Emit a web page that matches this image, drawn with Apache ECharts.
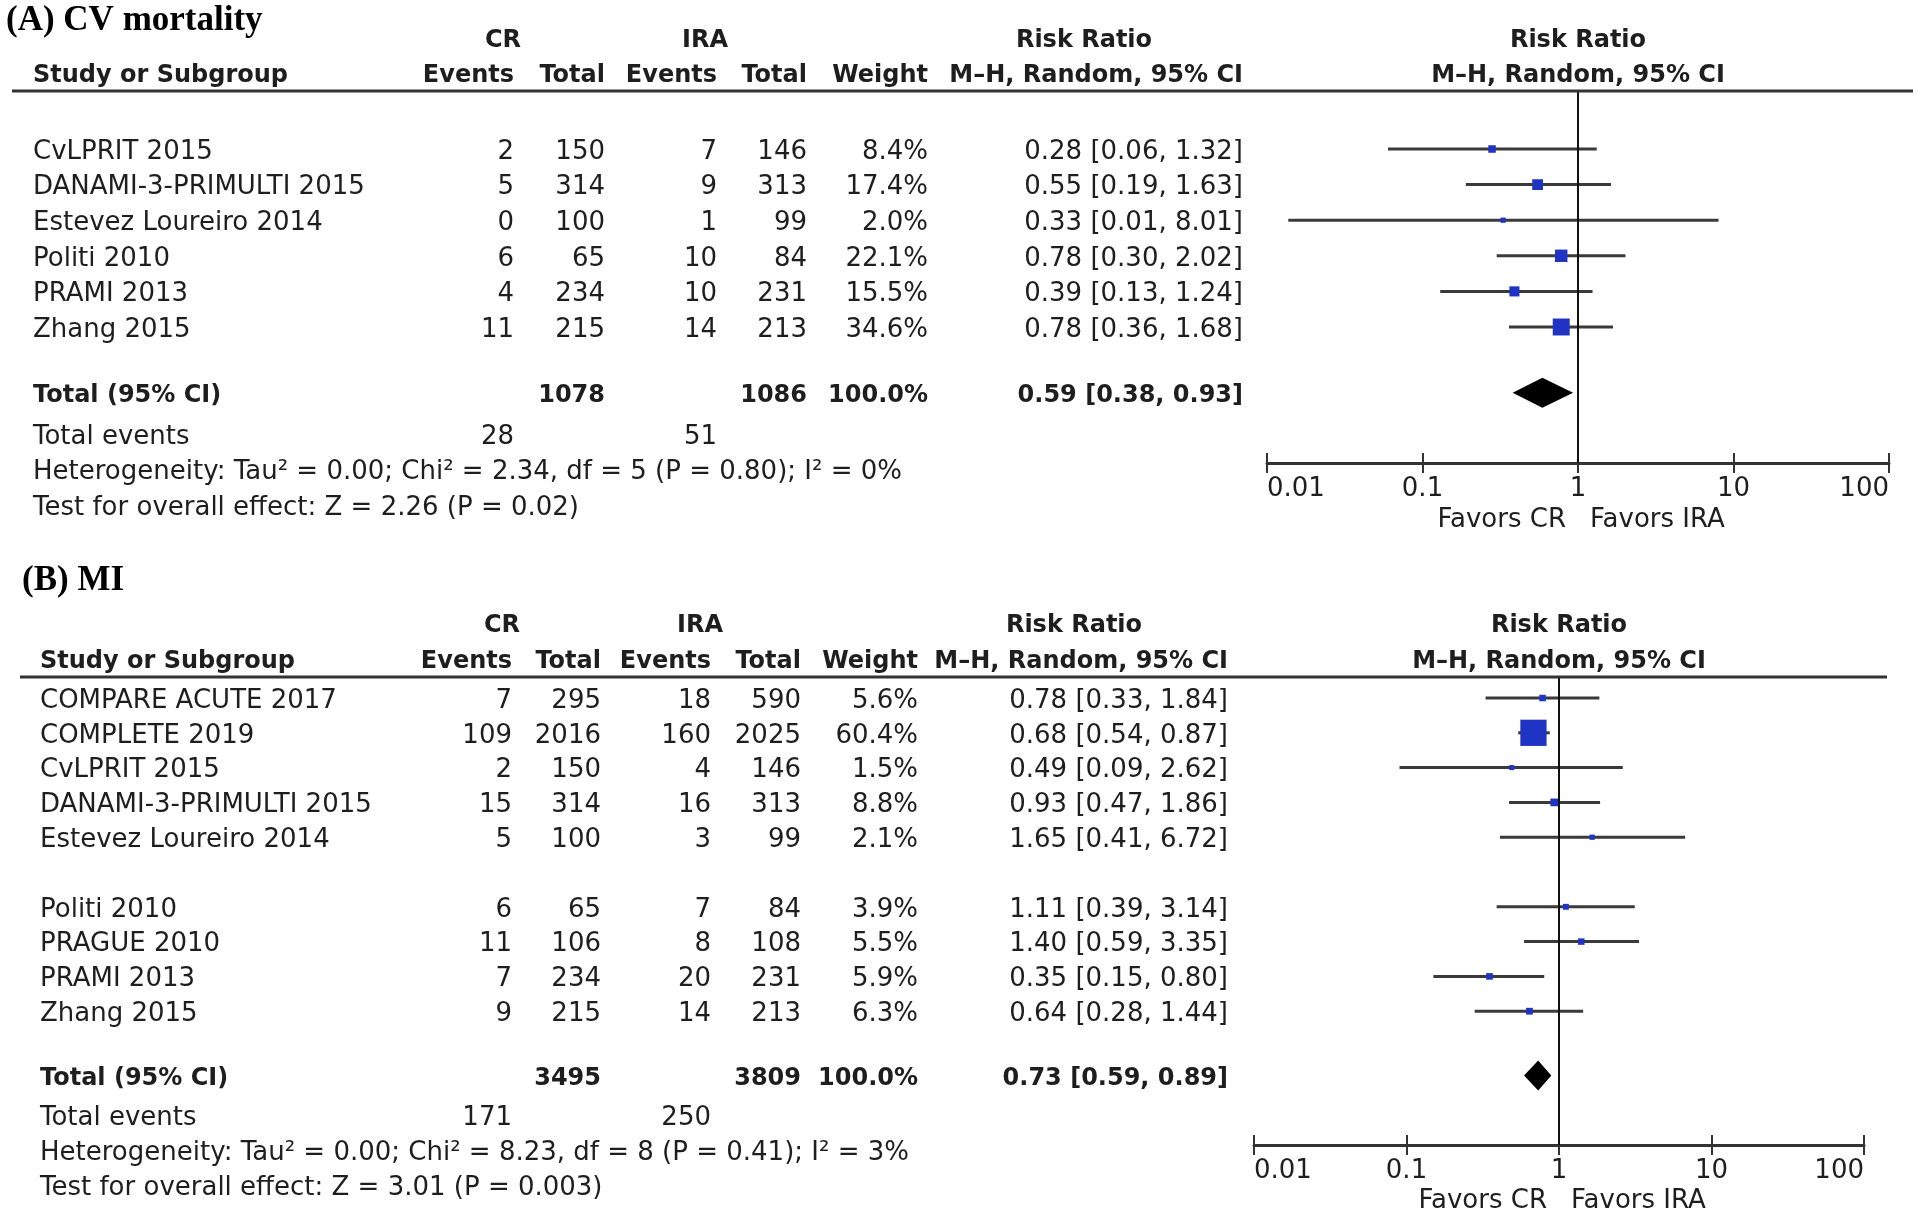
<!DOCTYPE html>
<html><head><meta charset="utf-8">
<script src="https://cdn.jsdelivr.net/npm/echarts@6/dist/echarts.min.js"></script>
<style>html,body{margin:0;padding:0;background:#fff}#c{width:1920px;height:1211px}</style>
</head><body><div id="c"></div><script>
// ---------- DATA: panel A (CV mortality) ----------
const studiesA   = ['CvLPRIT 2015','DANAMI-3-PRIMULTI 2015','Estevez Loureiro 2014','Politi 2010','PRAMI 2013','Zhang 2015'];
const crEventsA  = [2, 5, 0, 6, 4, 11];
const crTotalA   = [150, 314, 100, 65, 234, 215];
const iraEventsA = [7, 9, 1, 10, 10, 14];
const iraTotalA  = [146, 313, 99, 84, 231, 213];
const weightA    = [8.4, 17.4, 2.0, 22.1, 15.5, 34.6];
const rrA        = [0.28, 0.55, 0.33, 0.78, 0.39, 0.78];
const loA        = [0.06, 0.19, 0.0137, 0.30, 0.13, 0.36];
const hiA        = [1.32, 1.63, 8.01, 2.02, 1.24, 1.68];
const overallA   = [0.59, 0.38, 0.93];
const sumTotalA  = [1078, 1086];
const sumEventsA = [28, 51];
const hetA  = 'Heterogeneity: Tau² = 0.00; Chi² = 2.34, df = 5 (P = 0.80); I² = 0%';
const testA = 'Test for overall effect: Z = 2.26 (P = 0.02)';

// ---------- DATA: panel B (MI) ----------
const studiesB   = ['COMPARE ACUTE 2017','COMPLETE 2019','CvLPRIT 2015','DANAMI-3-PRIMULTI 2015','Estevez Loureiro 2014','Politi 2010','PRAGUE 2010','PRAMI 2013','Zhang 2015'];
const crEventsB  = [7, 109, 2, 15, 5, 6, 11, 7, 9];
const crTotalB   = [295, 2016, 150, 314, 100, 65, 106, 234, 215];
const iraEventsB = [18, 160, 4, 16, 3, 7, 8, 20, 14];
const iraTotalB  = [590, 2025, 146, 313, 99, 84, 108, 231, 213];
const weightB    = [5.6, 60.4, 1.5, 8.8, 2.1, 3.9, 5.5, 5.9, 6.3];
const rrB        = [0.78, 0.68, 0.49, 0.93, 1.65, 1.11, 1.40, 0.35, 0.64];
const loB        = [0.33, 0.54, 0.09, 0.47, 0.41, 0.39, 0.59, 0.15, 0.28];
const hiB        = [1.84, 0.87, 2.62, 1.86, 6.72, 3.14, 3.35, 0.80, 1.44];
const overallB   = [0.73, 0.59, 0.89];
const sumTotalB  = [3495, 3809];
const sumEventsB = [171, 250];
const hetB  = 'Heterogeneity: Tau² = 0.00; Chi² = 8.23, df = 8 (P = 0.41); I² = 3%';
const testB = 'Test for overall effect: Z = 3.01 (P = 0.003)';

const tickLabels = ['0.01', '0.1', '1', '10', '100'];
const favorsLabels = ['Favors CR', 'Favors IRA'];

// ---------- LAYOUT ----------
const panels = [
  { title:'(A) CV mortality', titleX:6, titleY:18, h1Y:38, h2Y:73, lineY:91, lineX:[12,1913],
    studyX:33, cols:[514,605,717,807,928,1243], crC:503, iraC:705, rrC:1084,
    plotL:1267, plotR:1889, axisY:463, firstY:149, pitch:35.6, gapAfter:99, favorsY:517,
    studies:studiesA, crE:crEventsA, crT:crTotalA, iraE:iraEventsA, iraT:iraTotalA, w:weightA, rr:rrA, lo:loA, hi:hiA,
    ov:overallA, sumT:sumTotalA, sumE:sumEventsA, het:hetA, test:testA },
  { title:'(B) MI', titleX:22, titleY:578, h1Y:623, h2Y:659, lineY:677, lineX:[20,1887],
    studyX:40, cols:[512,601,711,801,918,1228], crC:502, iraC:700, rrC:1074,
    plotL:1254, plotR:1864, axisY:1145, firstY:698, pitch:34.8, gapAfter:5, favorsY:1198,
    studies:studiesB, crE:crEventsB, crT:crTotalB, iraE:iraEventsB, iraT:iraTotalB, w:weightB, rr:rrB, lo:loB, hi:hiB,
    ov:overallB, sumT:sumTotalB, sumE:sumEventsB, het:hetB, test:testB }
];

const FONT = '"DejaVu Sans", Verdana, sans-serif';
const TXT = '#1e1e1e';
const LINE = '#3a3a3a';
const BLUE = '#1f33c4';
const DY = 3; // baseline nudge for table text

panels.forEach(p => {
  p.pos = p.studies.map((_, i) => i + (i >= p.gapAfter ? 1 : 0));
  const last = p.pos[p.pos.length - 1];
  p.totalPos = last + 1.85;
  p.evPos = p.totalPos + 1.15;
  p.hetPos = p.evPos + 1;
  p.testPos = p.hetPos + 1;
  p.yMin = -(p.firstY - p.lineY) / p.pitch;
  p.yMax = p.yMin + (p.axisY - p.lineY) / p.pitch;
});

const chart = echarts.init(document.getElementById('c'), null, { renderer: 'canvas' });

const grid = [], xAxis = [], yAxis = [], series = [];
// grids 0,1: plots; grids 2,3: same rects, used only for the upward tick marks
panels.forEach(p => grid.push({ left: p.plotL, top: p.lineY, width: p.plotR - p.plotL, height: p.axisY - p.lineY }));
panels.forEach(p => grid.push({ left: p.plotL, top: p.lineY, width: p.plotR - p.plotL, height: p.axisY - p.lineY }));

panels.forEach((p, k) => {
  const base = { type: 'log', logBase: 10, min: 0.01, max: 100, position: 'bottom', splitLine: { show: false } };
  xAxis.push(Object.assign({}, base, { gridIndex: k,
    axisLine: { show: true, onZero: false, lineStyle: { color: '#333', width: 3 } },
    axisTick: { show: true, length: 10, lineStyle: { color: '#333', width: 2 } },
    axisLabel: { show: true, margin: 13, fontSize: 26, fontFamily: FONT, color: TXT,
      alignMinLabel: 'left', alignMaxLabel: 'right',
      formatter: (v, i) => tickLabels[i] !== undefined ? tickLabels[i] : String(v) }
  }));
  yAxis.push({ gridIndex: k, type: 'value', inverse: true, min: p.yMin, max: p.yMax, show: false });
});
panels.forEach((p, k) => {
  xAxis.push({ gridIndex: 2 + k, type: 'log', logBase: 10, min: 0.01, max: 100, position: 'bottom',
    splitLine: { show: false },
    axisLine: { show: false, onZero: false },
    axisTick: { show: true, inside: true, length: 10, lineStyle: { color: '#333', width: 2 } },
    axisLabel: { show: false } });
  yAxis.push({ gridIndex: 2 + k, type: 'value', inverse: true, min: p.yMin, max: p.yMax, show: false });
});

panels.forEach((p, k) => {
  const ciData = p.studies.map((_, i) => [p.lo[i], p.hi[i], p.rr[i], p.pos[i], p.w[i]]);
  series.push({
    type: 'custom', xAxisIndex: k, yAxisIndex: k, clip: false,
    encode: { x: [0, 1, 2], y: 3 },
    data: ciData,
    renderItem: (params, api) => {
      const y = api.value(3);
      const a = api.coord([api.value(0), y]);
      const b = api.coord([api.value(1), y]);
      const c = api.coord([api.value(2), y]);
      const s = 4.5 + 0.36 * api.value(4);
      return { type: 'group', children: [
        { type: 'line', shape: { x1: a[0], y1: a[1], x2: b[0], y2: b[1] }, style: { stroke: LINE, lineWidth: 3 } },
        { type: 'rect', shape: { x: c[0] - s / 2, y: c[1] - s / 2, width: s, height: s }, style: { fill: BLUE } }
      ]};
    },
    markLine: { silent: true, symbol: 'none', label: { show: false },
      lineStyle: { color: '#111', width: 2, type: 'solid' }, data: [{ xAxis: 1 }] },
    z: 3
  });
  series.push({
    type: 'custom', xAxisIndex: k, yAxisIndex: k, clip: false,
    encode: { x: [0, 1, 2], y: 3 },
    data: [[p.ov[1], p.ov[2], p.ov[0], p.totalPos]],
    renderItem: (params, api) => {
      const y = api.value(3);
      const a = api.coord([api.value(0), y]);
      const b = api.coord([api.value(1), y]);
      const c = api.coord([api.value(2), y]);
      const h = 15;
      return { type: 'polygon', shape: { points: [[a[0], a[1]], [c[0], c[1] - h], [b[0], b[1]], [c[0], c[1] + h]] },
        style: { fill: '#000' } };
    },
    z: 4
  });
});

chart.setOption({ animation: false, backgroundColor: '#fff', grid, xAxis, yAxis, series });

function txt(text, x, y, align, o = {}) {
  return { type: 'text', silent: true, z: 10, style: {
    text: String(text), x, y: y + DY, textAlign: align, align, textVerticalAlign: 'middle', verticalAlign: 'middle',
    fill: o.color || TXT,
    font: (o.bold ? 'bold ' : '') + (o.size || 26) + 'px ' + (o.family || FONT)
  }};
}

const g = [];
panels.forEach((p, k) => {
  const Y = v => chart.convertToPixel({ yAxisIndex: k }, v);
  const x1 = chart.convertToPixel({ xAxisIndex: k }, 1);
  const c = p.cols;
  const B = { bold: true, size: 24 };
  g.push(txt(p.title, p.titleX, p.titleY, 'left', { bold: true, size: 35, family: '"Liberation Serif", "Times New Roman", serif', color: '#000' }));
  g.push(txt('CR', p.crC, p.h1Y, 'center', B));
  g.push(txt('IRA', p.iraC, p.h1Y, 'center', B));
  g.push(txt('Risk Ratio', p.rrC, p.h1Y, 'center', B));
  g.push(txt('Risk Ratio', x1, p.h1Y, 'center', B));
  g.push(txt('Study or Subgroup', p.studyX, p.h2Y, 'left', B));
  g.push(txt('Events', c[0], p.h2Y, 'right', B));
  g.push(txt('Total', c[1], p.h2Y, 'right', B));
  g.push(txt('Events', c[2], p.h2Y, 'right', B));
  g.push(txt('Total', c[3], p.h2Y, 'right', B));
  g.push(txt('Weight', c[4], p.h2Y, 'right', B));
  g.push(txt('M\u2013H, Random, 95% CI', c[5], p.h2Y, 'right', B));
  g.push(txt('M\u2013H, Random, 95% CI', x1, p.h2Y, 'center', B));
  g.push({ type: 'line', silent: true, z: 9, shape: { x1: p.lineX[0], y1: p.lineY, x2: p.lineX[1], y2: p.lineY },
    style: { stroke: '#333', lineWidth: 3 } });

  p.studies.forEach((s, i) => {
    const y = Y(p.pos[i]);
    g.push(txt(s, p.studyX, y, 'left'));
    g.push(txt(p.crE[i], c[0], y, 'right'));
    g.push(txt(p.crT[i], c[1], y, 'right'));
    g.push(txt(p.iraE[i], c[2], y, 'right'));
    g.push(txt(p.iraT[i], c[3], y, 'right'));
    g.push(txt(p.w[i].toFixed(1) + '%', c[4], y, 'right'));
    g.push(txt(p.rr[i].toFixed(2) + ' [' + p.lo[i].toFixed(2) + ', ' + p.hi[i].toFixed(2) + ']', c[5], y, 'right'));
  });
  const ty = Y(p.totalPos);
  g.push(txt('Total (95% CI)', p.studyX, ty, 'left', B));
  g.push(txt(p.sumT[0], c[1], ty, 'right', B));
  g.push(txt(p.sumT[1], c[3], ty, 'right', B));
  g.push(txt((p.w.reduce((a, b) => a + b, 0)).toFixed(1) + '%', c[4], ty, 'right', B));
  g.push(txt(p.ov[0].toFixed(2) + ' [' + p.ov[1].toFixed(2) + ', ' + p.ov[2].toFixed(2) + ']', c[5], ty, 'right', B));
  const ey = Y(p.evPos);
  g.push(txt('Total events', p.studyX, ey, 'left'));
  g.push(txt(p.sumE[0], c[0], ey, 'right'));
  g.push(txt(p.sumE[1], c[2], ey, 'right'));
  g.push(txt(p.het, p.studyX, Y(p.hetPos), 'left'));
  g.push(txt(p.test, p.studyX, Y(p.testPos), 'left'));
  g.push(txt(favorsLabels[0], x1 - 12, p.favorsY, 'right'));
  g.push(txt(favorsLabels[1], x1 + 12, p.favorsY, 'left'));
});
chart.setOption({ graphic: g });
</script></body></html>
